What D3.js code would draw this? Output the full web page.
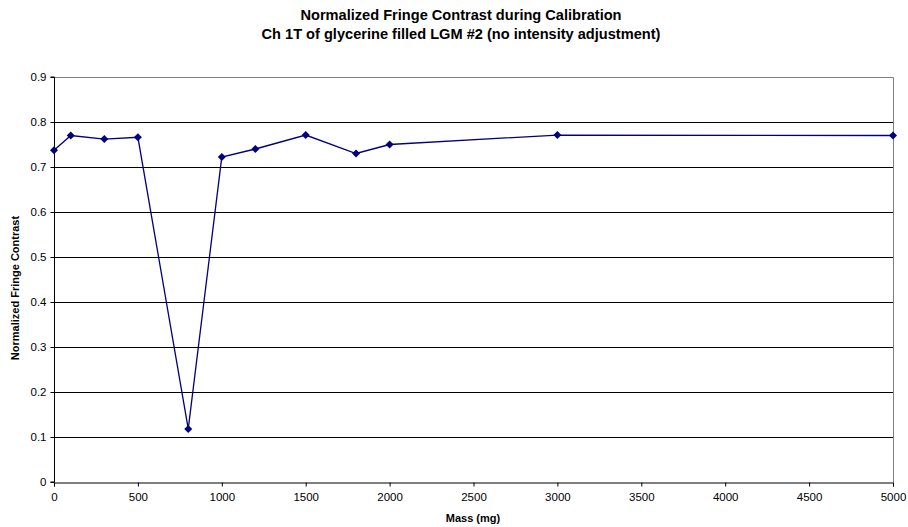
<!DOCTYPE html>
<html><head><meta charset="utf-8">
<script src="https://cdn.jsdelivr.net/npm/d3@7"></script>
<style>body{margin:0;background:#fff}svg{display:block;font-family:Arial,"Liberation Sans",sans-serif}</style>
</head><body><svg id="c" width="908" height="527"></svg>
<script>
const massMg = [0, 100, 300, 500, 800, 1000, 1200, 1500, 1800, 2000, 3000, 5000];
const contrast = [0.737, 0.770, 0.762, 0.766, 0.118, 0.722, 0.740, 0.771, 0.730, 0.750, 0.771, 0.770];
const xTicks = [0,500,1000,1500,2000,2500,3000,3500,4000,4500,5000];
const yTicks = [0,0.1,0.2,0.3,0.4,0.5,0.6,0.7,0.8,0.9];
const titleLines = ["Normalized Fringe Contrast during Calibration","Ch 1T of glycerine filled LGM #2 (no intensity adjustment)"];

const svg = d3.select("#c");
const L=54,R=893,T=77,B=482;
const x = d3.scaleLinear().domain([0,5000]).range([L,R]);
const y = d3.scaleLinear().domain([0,0.9]).range([B,T]);

// gridlines
svg.append("g").selectAll("line").data(yTicks.filter(d=>d>0&&d<0.9)).join("line")
  .attr("x1",L).attr("x2",R).attr("y1",d=>Math.round(y(d))+0.5).attr("y2",d=>Math.round(y(d))+0.5)
  .attr("stroke","#000").attr("stroke-width",1);
// top & right border
svg.append("path").attr("d",`M${L},${T+0.5}H${R+0.5}V${B}`).attr("fill","none").attr("stroke","#808080");

// axes
const yAxis = svg.append("g").attr("transform",`translate(${L+0.5},0)`)
  .call(d3.axisLeft(y).tickValues(yTicks).tickSize(4).tickPadding(4).tickFormat(d=>d===0?"0":d3.format(".1f")(d)));
const xAxis = svg.append("g").attr("transform",`translate(0,${B+0.5})`)
  .call(d3.axisBottom(x).tickValues(xTicks).tickSize(4).tickPadding(6).tickFormat(d3.format("d")));
[yAxis,xAxis].forEach(a=>{
  a.select(".domain").attr("stroke","#000");
  a.selectAll(".tick line").attr("stroke","#000");
  a.selectAll("text").attr("font-size","11.5px").attr("fill","#000").attr("font-family","Arial,'Liberation Sans',sans-serif");
});
yAxis.select(".domain").attr("d",`M-4,${B}H0V${T}H-4`);

// line
const pts = massMg.map((m,i)=>[m,contrast[i]]);
svg.append("path").datum(pts).attr("fill","none").attr("stroke","#000080").attr("stroke-width",1.3)
  .attr("d",d3.line().x(d=>x(d[0])).y(d=>y(d[1])));
svg.append("g").selectAll("path").data(pts).join("path")
  .attr("transform",d=>`translate(${x(d[0])},${y(d[1])})`)
  .attr("d","M0,-4L4,0L0,4L-4,0Z").attr("fill","#000080");

// titles
svg.append("g").selectAll("text").data(titleLines).join("text")
  .attr("x",461).attr("y",(d,i)=>20+i*18.5).attr("text-anchor","middle")
  .attr("font-size","14.6px").attr("font-weight","bold").text(d=>d);
svg.append("text").attr("x",473).attr("y",522).attr("text-anchor","middle")
  .attr("font-size","11px").attr("font-weight","bold").text("Mass (mg)");
svg.append("text").attr("transform",`translate(19,288) rotate(-90)`).attr("text-anchor","middle")
  .attr("font-size","11px").attr("font-weight","bold").text("Normalized Fringe Contrast");
</script></body></html>
